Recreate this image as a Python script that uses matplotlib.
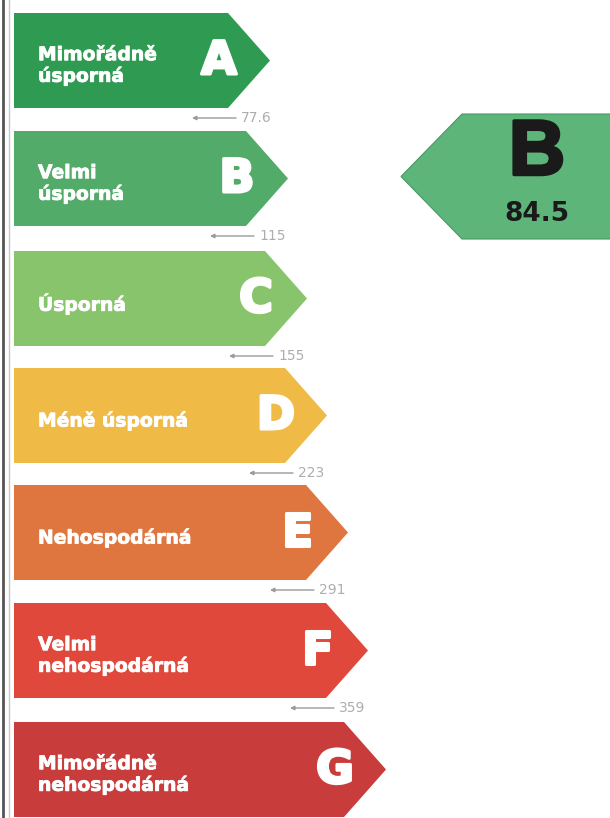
import matplotlib
matplotlib.use("Agg")
import matplotlib.pyplot as plt
from matplotlib.patches import Polygon
import matplotlib.patheffects as pe

# ---- data ----
classes = ["A", "B", "C", "D", "E", "F", "G"]
labels = ["Mimořádně\núsporná", "Velmi\núsporná", "Úsporná", "Méně úsporná",
          "Nehospodárná", "Velmi\nnehospodárná", "Mimořádně\nnehospodárná"]
thresholds = ["77.6", "115", "155", "223", "291", "359"]
current_class = "B"
current_value = "84.5"
colors = ["#2f9a52", "#52ab68", "#87c46b", "#f0ba47", "#e0763f", "#e0483c", "#c83c3c"]
indicator_color = "#5db57a"

# ---- layout (pixels) ----
W, H = 610, 818
fig = plt.figure(figsize=(W / 100, H / 100), dpi=100)
ax = fig.add_axes([0, 0, 1, 1])
ax.set_xlim(0, W)
ax.set_ylim(H, 0)
ax.axis("off")

left = 14
tops = [13, 131, 251, 368, 485, 603, 722]
bar_h = 95
tips = [270, 288, 307, 327, 348, 368, 386]
depth = 42

for i, cls in enumerate(classes):
    t = tops[i]
    tip = tips[i]
    body = tip - depth
    mid = t + bar_h / 2
    poly = Polygon([(left, t), (body, t), (tip, mid), (body, t + bar_h), (left, t + bar_h)],
                   closed=True, facecolor=colors[i], edgecolor="none")
    ax.add_patch(poly)
    ax.text(38, mid + 5, labels[i], color="white", fontsize=13.5, fontweight="bold",
            family="DejaVu Sans", ha="left", va="center", linespacing=1.1,
            path_effects=[pe.withStroke(linewidth=0.6, foreground="white")])
    ax.text(tip - 51, mid + 1, cls, color="white", fontsize=33, fontweight="bold",
            family="DejaVu Sans", ha="center", va="center",
            path_effects=[pe.withStroke(linewidth=2.2, foreground="white")])
    if i < len(thresholds):
        ty = t + bar_h + 10
        ax.annotate("", xy=(body - 36, ty), xytext=(body + 8, ty),
                    arrowprops=dict(arrowstyle="-|>", color="#9a9a9a", lw=1.0,
                                    mutation_scale=6, shrinkA=0, shrinkB=0))
        ax.text(body + 13, ty, thresholds[i], color="#adadad", fontsize=10,
                family="DejaVu Sans", ha="left", va="center")

# ---- indicator ----
it, ib = 114, 239
itip = 401
ibody = 462
imid = (it + ib) / 2
ind = Polygon([(itip, imid), (ibody, it), (W + 5, it), (W + 5, ib), (ibody, ib)],
              closed=True, facecolor=indicator_color, edgecolor="#4a9866", lw=0.8)
ax.add_patch(ind)
ax.text(537, 154, current_class, color="#1a1a1a", fontsize=56, fontweight="bold",
        family="Liberation Sans", ha="center", va="center",
        path_effects=[pe.withStroke(linewidth=2.5, foreground="#1a1a1a")])
ax.text(537, 214, current_value, color="#1a1a1a", fontsize=19, fontweight="bold",
        family="DejaVu Sans", ha="center", va="center")

# ---- left border lines (scan edge) ----
ax.plot([3, 3], [0, H], color="#555555", lw=2.0)
ax.plot([8.5, 8.5], [0, H], color="#c8c8c8", lw=1.0)

fig.savefig("out.png", dpi=100)
